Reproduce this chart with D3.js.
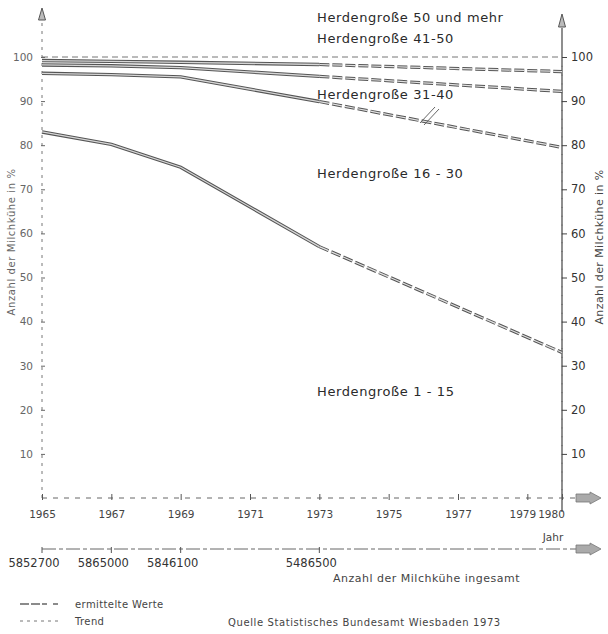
<!DOCTYPE html>
<html>
<head>
<meta charset="utf-8">
<script src="https://cdn.jsdelivr.net/npm/d3@7"></script>
<style>
  html, body { margin: 0; padding: 0; background: #fff; }
  svg { display: block; }
  text { font-family: "DejaVu Sans", "Liberation Sans", sans-serif; fill: #333; }
</style>
</head>
<body>
<svg id="chart" width="608" height="634"></svg>
<script>
// Anteil der Milchkühe nach Herdengröße (kumuliert, in %)
const measuredYears = [1965, 1967, 1969, 1973];   // ermittelte Werte
const trendYears = [1973, 1980];                  // Trend

// obere Grenze der Herdengröße 41-50 (darüber: 50 und mehr)
const grenze41bis50 = [99.2, 99.0, 98.8, 98.3];
const trend41bis50 = [98.3, 96.7];
// obere Grenze der Herdengröße 31-40
const grenze31bis40 = [98.2, 98.0, 97.6, 95.6];
const trend31bis40 = [95.6, 92.2];
// obere Grenze der Herdengröße 16-30
const grenze16bis30 = [96.3, 96.0, 95.5, 89.9];
const trend16bis30 = [89.9, 79.5];
// obere Grenze der Herdengröße 1-15
const grenze1bis15 = [83.0, 80.2, 75.0, 57.0];
const trend1bis15 = [57.0, 33.0];

const yearTicks = [1965, 1967, 1969, 1971, 1973, 1975, 1977, 1979, 1980];
const percentTicks = [10, 20, 30, 40, 50, 60, 70, 80, 90, 100];
const cowYears = [1965, 1967, 1969, 1973];
const cowTotals = ["5852700", "5865000", "5846100", "5486500"];

const bandLabels = [
  { text: "Herdengroße 50 und mehr", value: 108.0 },
  { text: "Herdengroße 41-50", value: 103.2 },
  { text: "Herdengroße 31-40", value: 90.4 },
  { text: "Herdengroße 16 - 30", value: 72.6 },
  { text: "Herdengroße  1 - 15", value: 23.1 }
];

const svg = d3.select("#chart");
const x = d3.scaleLinear().domain([1965, 1980]).range([42, 562]);
const y = d3.scaleLinear().domain([0, 100]).range([498, 57]);

const line = d3.line().x(d => x(d[0])).y(d => y(d[1]));

// 100-%-Linie
svg.append("line")
  .attr("x1", x(1965)).attr("x2", x(1980))
  .attr("y1", y(100)).attr("y2", y(100))
  .attr("stroke", "#777").attr("stroke-width", 1)
  .attr("stroke-dasharray", "6,4");

// linke Achse (gestrichelt) mit Kreuzmarken
svg.append("line")
  .attr("x1", 42).attr("x2", 42).attr("y1", y(0)).attr("y2", 22)
  .attr("stroke", "#777").attr("stroke-width", 1).attr("stroke-dasharray", "3,5");
svg.append("path")
  .attr("d", "M42,8 L38.5,20 L45.5,20 Z")
  .attr("fill", "#bbb").attr("stroke", "#555").attr("stroke-width", 1);
const leftAxis = d3.axisLeft(y).tickValues(percentTicks).tickSize(4).tickFormat(d3.format("d"));
const gl = svg.append("g").attr("transform", "translate(45,0)").call(leftAxis);
gl.select(".domain").remove();
gl.selectAll(".tick line").attr("stroke", "#666");
gl.selectAll(".tick text").attr("x", -12).style("font-size", "10.5px").style("fill", "#666")
  .style("font-family", "'DejaVu Sans', sans-serif");

// rechte Achse (durchgezogen) mit Unterteilung
svg.append("line")
  .attr("x1", 562).attr("x2", 562).attr("y1", 512).attr("y2", 28)
  .attr("stroke", "#444").attr("stroke-width", 1.2);
svg.append("path")
  .attr("d", "M562,14 L558.5,27 L565.5,27 Z")
  .attr("fill", "#bbb").attr("stroke", "#555").attr("stroke-width", 1);
const minorAxis = d3.axisRight(y).tickValues(d3.range(2, 100, 2)).tickSize(2).tickFormat("");
const gm = svg.append("g").attr("transform", "translate(561,0)").call(minorAxis);
gm.select(".domain").remove();
gm.selectAll(".tick line").attr("stroke", "#777");
const rightAxis = d3.axisRight(y).tickValues(percentTicks).tickSize(5).tickFormat(d3.format("d"));
const gr = svg.append("g").attr("transform", "translate(562,0)").call(rightAxis);
gr.select(".domain").remove();
gr.selectAll(".tick line").attr("stroke", "#444");
gr.selectAll(".tick text").attr("x", 9).style("font-size", "11.5px").style("fill", "#333")
  .style("font-family", "'DejaVu Sans', sans-serif");

// Achsentitel
svg.append("text")
  .attr("transform", "translate(15,242) rotate(-90)")
  .attr("text-anchor", "middle")
  .style("font-size", "10px").style("fill", "#666").style("letter-spacing", "0.6px")
  .text("Anzahl der Milchkühe in %");
svg.append("text")
  .attr("transform", "translate(603,247) rotate(-90)")
  .attr("text-anchor", "middle")
  .style("font-size", "11px").style("fill", "#444").style("letter-spacing", "0.4px")
  .text("Anzahl der Milchkühe in %");

// Zeitachse
svg.append("line")
  .attr("x1", 42).attr("x2", 578).attr("y1", y(0)).attr("y2", y(0))
  .attr("stroke", "#666").attr("stroke-width", 1).attr("stroke-dasharray", "5,6");
svg.append("path")
  .attr("d", `M576,${y(0) - 4} L590,${y(0) - 4} L590,${y(0) - 6} L601,${y(0)} L590,${y(0) + 6} L590,${y(0) + 4} L576,${y(0) + 4} Z`)
  .attr("fill", "#aaa").attr("stroke", "#777").attr("stroke-width", 0.8);
const xAxis = d3.axisBottom(x).tickValues(yearTicks).tickSize(3).tickFormat(d3.format("d"));
const gx = svg.append("g").attr("transform", `translate(0,${y(0) - 1})`).call(xAxis);
gx.select(".domain").remove();
gx.selectAll(".tick line").attr("stroke", "#555").attr("y1", -3);
gx.selectAll(".tick text").attr("y", 14).style("font-size", "10.5px").style("fill", "#444")
  .style("font-family", "'DejaVu Sans', sans-serif");
gx.selectAll(".tick").filter(d => d === 1979).select("text").attr("dx", -5);
gx.selectAll(".tick").filter(d => d === 1980).select("text").attr("dx", -11);
svg.append("text").attr("x", 553).attr("y", 541).attr("text-anchor", "middle")
  .style("font-size", "10.5px").style("fill", "#444").text("Jahr");

// Achse Gesamtzahl der Milchkühe
const cowY = 549;
svg.append("line")
  .attr("x1", 42).attr("x2", 578).attr("y1", cowY).attr("y2", cowY)
  .attr("stroke", "#666").attr("stroke-width", 1).attr("stroke-dasharray", "14,3,4,3");
svg.append("path")
  .attr("d", `M576,${cowY - 4} L590,${cowY - 4} L590,${cowY - 6} L601,${cowY} L590,${cowY + 6} L590,${cowY + 4} L576,${cowY + 4} Z`)
  .attr("fill", "#aaa").attr("stroke", "#777").attr("stroke-width", 0.8);
const cowG = svg.append("g");
cowG.selectAll("line.cowtick").data(cowYears).join("line")
  .attr("class", "cowtick")
  .attr("x1", d => x(d)).attr("x2", d => x(d))
  .attr("y1", cowY - 2).attr("y2", cowY + 4)
  .attr("stroke", "#555");
cowG.selectAll("text").data(cowYears).join("text")
  .attr("x", d => x(d) - 8).attr("y", cowY + 18)
  .attr("text-anchor", "middle")
  .style("font-size", "11.5px").style("fill", "#333")
  .text((d, i) => cowTotals[i]);
svg.append("text").attr("x", 333).attr("y", 582)
  .style("font-size", "11px").style("fill", "#444").style("letter-spacing", "0.5px")
  .text("Anzahl der Milchkühe ingesamt");

// Grenzlinien der Herdengrößen: Doppellinie, Trend gestrichelt
const series = [
  [grenze41bis50, trend41bis50],
  [grenze31bis40, trend31bis40],
  [grenze16bis30, trend16bis30],
  [grenze1bis15, trend1bis15]
];
series.forEach(([measured, trend]) => {
  const m = measuredYears.map((yr, i) => [yr, measured[i]]);
  const t = trendYears.map((yr, i) => [yr, trend[i]]);
  svg.append("path").attr("d", line(m)).attr("fill", "none")
    .attr("stroke", "#555").attr("stroke-width", 3.4);
  svg.append("path").attr("d", line(m)).attr("fill", "none")
    .attr("stroke", "#d6d6d6").attr("stroke-width", 1.3);
  svg.append("path").attr("d", line(t)).attr("fill", "none")
    .attr("stroke", "#555").attr("stroke-width", 3.2).attr("stroke-dasharray", "10,3");
  svg.append("path").attr("d", line(t)).attr("fill", "none")
    .attr("stroke", "#e0e0e0").attr("stroke-width", 1.2).attr("stroke-dasharray", "10,3");
});

// Hinweisstriche an der Linie 16-30
[[0, 0], [4, 2]].forEach(([dx, dy]) => {
  svg.append("line")
    .attr("x1", 420 + dx).attr("y1", 123 + dy).attr("x2", 435 + dx).attr("y2", 107 + dy)
    .attr("stroke", "#555").attr("stroke-width", 0.9);
});

// Beschriftung der Herdengrößen
svg.selectAll("text.band").data(bandLabels).join("text")
  .attr("class", "band")
  .attr("x", 317).attr("y", d => y(d.value))
  .style("font-size", "13px").style("fill", "#2a2a2a").style("letter-spacing", "0.6px")
  .text(d => d.text);

// Legende
svg.append("line").attr("x1", 20).attr("x2", 58).attr("y1", 604).attr("y2", 604)
  .attr("stroke", "#666").attr("stroke-width", 1.6).attr("stroke-dasharray", "9,2,9,2,5,6");
svg.append("text").attr("x", 75).attr("y", 608)
  .style("font-size", "10px").style("fill", "#444").style("letter-spacing", "0.4px")
  .text("ermittelte Werte");
svg.append("line").attr("x1", 20).attr("x2", 58).attr("y1", 621).attr("y2", 621)
  .attr("stroke", "#777").attr("stroke-width", 1).attr("stroke-dasharray", "3,4");
svg.append("text").attr("x", 75).attr("y", 625)
  .style("font-size", "10px").style("fill", "#444").style("letter-spacing", "0.4px")
  .text("Trend");
svg.append("text").attr("x", 228).attr("y", 626)
  .style("font-size", "10px").style("fill", "#444").style("letter-spacing", "0.6px")
  .text("Quelle Statistisches Bundesamt Wiesbaden 1973");
</script>
</body>
</html>
